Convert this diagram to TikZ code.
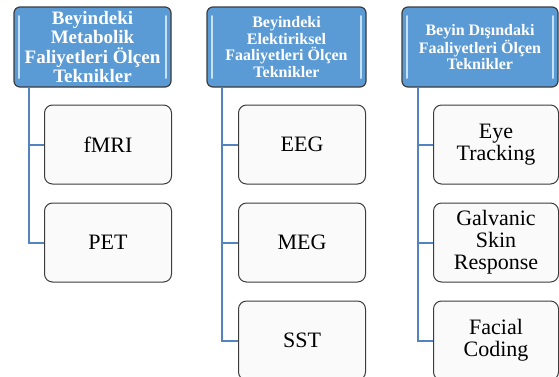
\documentclass[tikz,border=0pt]{standalone}
\usepackage{fontspec}
\setmainfont{Liberation Serif}
\usetikzlibrary{positioning}

\definecolor{headblue}{RGB}{91,155,213}
\definecolor{glintblue}{RGB}{200,225,245}
\definecolor{branchblue}{RGB}{84,132,192}
\definecolor{boxedge}{RGB}{60,60,60}

\begin{document}
\begin{tikzpicture}[
  x=1pt,y=-1pt,
  head/.style={draw=boxedge,line width=1.2pt,rounded corners=6pt,fill=headblue,
    text=white,align=center,inner sep=0pt,minimum height=80pt,
    font=\bfseries\fontsize{16}{16.5}\selectfont,
    path picture={
      \draw[glint] ([xshift=5pt,yshift=9pt]path picture bounding box.south west)
        -- ([xshift=5pt,yshift=-9pt]path picture bounding box.north west);
      \draw[glint] ([xshift=-5pt,yshift=9pt]path picture bounding box.south east)
        -- ([xshift=-5pt,yshift=-9pt]path picture bounding box.north east);}},
  glint/.style={glintblue,line width=2pt,line cap=round},
  item/.style={draw=boxedge,line width=1pt,rounded corners=8pt,fill=black!2,
    minimum width=127pt,minimum height=79pt,align=center,inner sep=0pt,
    font=\fontsize{22}{22}\selectfont},
  branch/.style={draw=branchblue,line width=2pt},
]
  \useasboundingbox (0,0) rectangle (559,376);

  % Column headers.
  \node[head,minimum width=157pt,font=\bfseries\fontsize{19}{19.6}\selectfont] (h1) at (92.5,47)
    {Beyindeki\\Metabolik\\Faliyetleri Ölçen\\Teknikler};
  \node[head,minimum width=159pt] (h2) at (286.5,47)
    {Beyindeki\\Elektiriksel\\Faaliyetleri Ölçen\\Teknikler};
  \node[head,minimum width=156pt] (h3) at (480,47)
    {Beyin Dışındaki\\Faaliyetleri Ölçen\\Teknikler};

  % Techniques under each header.
  \node[item] (fmri) at (108,144.5) {fMRI};
  \node[item,below=18pt of fmri] (pet) {PET};

  \node[item] (eeg) at (302,144.5) {EEG};
  \node[item,below=18pt of eeg] (meg) {MEG};
  \node[item,below=18pt of meg] (sst) {SST};

  \node[item,minimum width=125pt] (eye) at (496,144.5) {Eye\\Tracking};
  \node[item,minimum width=125pt,below=18pt of eye] (gsr) {Galvanic\\Skin\\Response};
  \node[item,minimum width=125pt,below=18pt of gsr] (face) {Facial\\Coding};

  % Tree branches.
  \coordinate (t1) at ([xshift=16pt]h1.south west);
  \coordinate (t2) at ([xshift=16pt]h2.south west);
  \coordinate (t3) at ([xshift=17pt]h3.south west);
  \draw[branch] (t1) |- (fmri.west);
  \draw[branch] (t1) |- (pet.west);
  \draw[branch] (t2) |- (eeg.west);
  \draw[branch] (t2) |- (meg.west);
  \draw[branch] (t2) |- (sst.west);
  \draw[branch] (t3) |- (eye.west);
  \draw[branch] (t3) |- (gsr.west);
  \draw[branch] (t3) |- (face.west);

\end{tikzpicture}
\end{document}
